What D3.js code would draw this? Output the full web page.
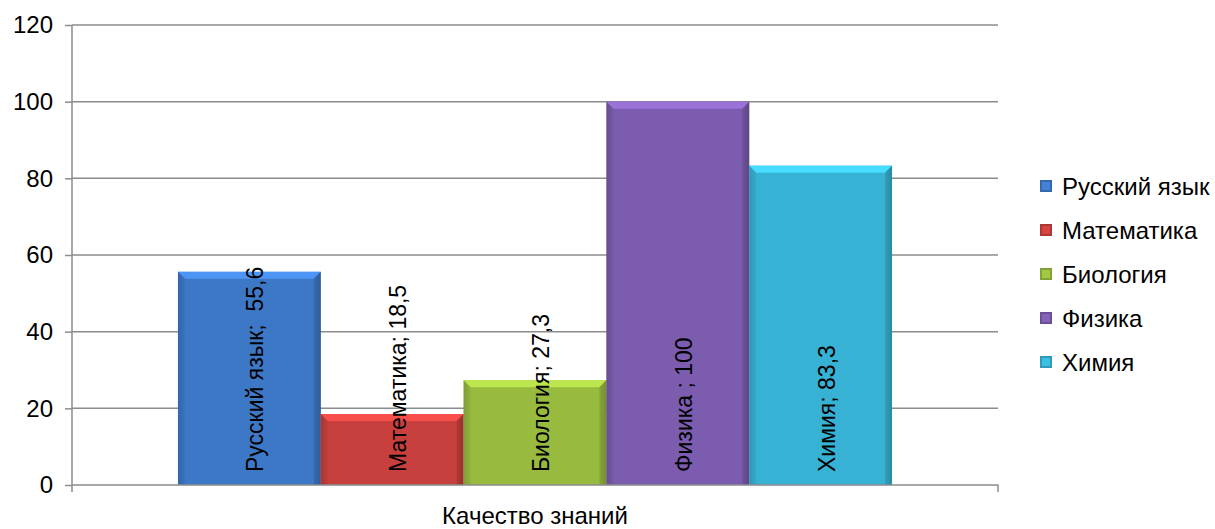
<!DOCTYPE html>
<html><head><meta charset="utf-8">
<script src="https://cdn.jsdelivr.net/npm/d3@7"></script>
<style>
html,body{margin:0;padding:0;background:#fff;}
text{font-family:"Liberation Sans",Arial,sans-serif;fill:#000;}
</style></head>
<body><svg id="chart" width="1215" height="529"></svg>
<script>
const categories = ["Качество знаний"];
const seriesNames = ["Русский язык", "Математика", "Биология", "Физика", "Химия"];
const seriesValues = [55.6, 18.5, 27.3, 100, 83.3];
const dataLabels = ["Русский язык;  55,6", "Математика; 18,5", "Биология; 27,3", "Физика ; 100", "Химия; 83,3"];
const seriesColors = ["#3d78c6", "#c8403d", "#98ba3e", "#7c5cae", "#38b2d4"];
const yTicks = [0, 20, 40, 60, 80, 100, 120];

const svg = d3.select("#chart");
const m = {left: 72, right: 217, top: 25, bottom: 44};
const W = 1215, H = 529;
const x0 = d3.scaleBand().domain(categories).range([m.left, W - m.right]).padding(0);
const x1 = d3.scaleBand().domain(seriesNames).range([0, x0.bandwidth()]).paddingInner(0).paddingOuter(0.742);
const y = d3.scaleLinear().domain([0, 120]).range([H - m.bottom, m.top]);

const defs = svg.append("defs");
seriesColors.forEach((c, i) => {
  const base = d3.color(c);
  const g = defs.append("linearGradient").attr("id", "g" + i).attr("x1", 0).attr("x2", 1).attr("y1", 0).attr("y2", 0);
  g.append("stop").attr("offset", "0%").attr("stop-color", base.darker(0.6));
  g.append("stop").attr("offset", "5%").attr("stop-color", base);
  g.append("stop").attr("offset", "95%").attr("stop-color", base);
  g.append("stop").attr("offset", "100%").attr("stop-color", base.darker(0.8));
});

// gridlines
svg.append("g").selectAll("line").data(yTicks.filter(d => d > 0)).join("line")
  .attr("x1", m.left).attr("x2", W - m.right)
  .attr("y1", d => y(d)).attr("y2", d => y(d))
  .attr("stroke", "#8c8c8c").attr("stroke-width", 1.5);

// y axis
const yAxis = svg.append("g").attr("transform", `translate(${m.left},0)`)
  .call(d3.axisLeft(y).tickValues(yTicks).tickSize(7).tickPadding(12));
yAxis.select(".domain").attr("stroke", "#8c8c8c").attr("stroke-width", 1.5).attr("d", `M0,${y(0)+7}V${y(120)}`);
yAxis.selectAll(".tick line").attr("stroke", "#8c8c8c").attr("stroke-width", 1.5);
yAxis.selectAll(".tick text").style("font-size", "24px").attr("fill", "#000").style("font-family", "'Liberation Sans',Arial,sans-serif");

// bars
const bars = svg.append("g");
seriesNames.forEach((s, i) => {
  const bx = x0(categories[0]) + x1(s), bw = x1.bandwidth();
  const top = y(seriesValues[i]), bot = y(0);
  const base = d3.color(seriesColors[i]);
  bars.append("rect").attr("x", bx).attr("y", top).attr("width", bw).attr("height", bot - top)
    .attr("fill", `url(#g${i})`);
  const bev = 7;
  bars.append("path")
    .attr("d", `M${bx},${top}H${bx+bw}L${bx+bw-bev},${top+bev}H${bx+bev}Z`)
    .attr("fill", base.brighter(0.6));
  bars.append("path")
    .attr("d", `M${bx},${top}L${bx+bev},${top+bev}V${bot}H${bx}Z`)
    .attr("fill", base.darker(0.3)).attr("opacity", 0.4);
  bars.append("path")
    .attr("d", `M${bx+bw},${top}L${bx+bw-bev},${top+bev}V${bot}H${bx+bw}Z`)
    .attr("fill", base.darker(0.7)).attr("opacity", 0.5);
});

// x axis
const xa = svg.append("g");
xa.append("path").attr("d", `M${m.left},${y(0)}H${W - m.right}V${y(0)+7}`)
  .attr("fill", "none").attr("stroke", "#8c8c8c").attr("stroke-width", 1.5);
xa.append("text").attr("x", x0(categories[0]) + x0.bandwidth()/2).attr("y", 524)
  .attr("text-anchor", "middle").style("font-size", "24px").text(categories[0]);

// data labels
const lab = svg.append("g");
seriesNames.forEach((s, i) => {
  const cx = x0(categories[0]) + x1(s) + x1.bandwidth()/2 + 6;
  const ly = y(0) - 13;
  lab.append("text").attr("transform", `translate(${cx},${ly}) rotate(-90)`)
    .attr("text-anchor", "start").attr("dominant-baseline", "central")
    .style("font-size", "23px").style("white-space", "pre").text(dataLabels[i]);
});

// legend
const lg = svg.append("g").attr("transform", "translate(1040,186)");
seriesNames.forEach((s, i) => {
  const row = lg.append("g").attr("transform", `translate(0,${i*44})`);
  const c = d3.color(seriesColors[i]);
  row.append("rect").attr("x", 0).attr("y", -6).attr("width", 12).attr("height", 12).attr("fill", c.darker(0.4));
  row.append("rect").attr("x", 2).attr("y", -4).attr("width", 8).attr("height", 8).attr("fill", c.brighter(0.2));
  row.append("text").attr("x", 22).attr("y", 0).attr("dominant-baseline", "central")
    .style("font-size", "24px").text(s);
});
</script></body></html>
